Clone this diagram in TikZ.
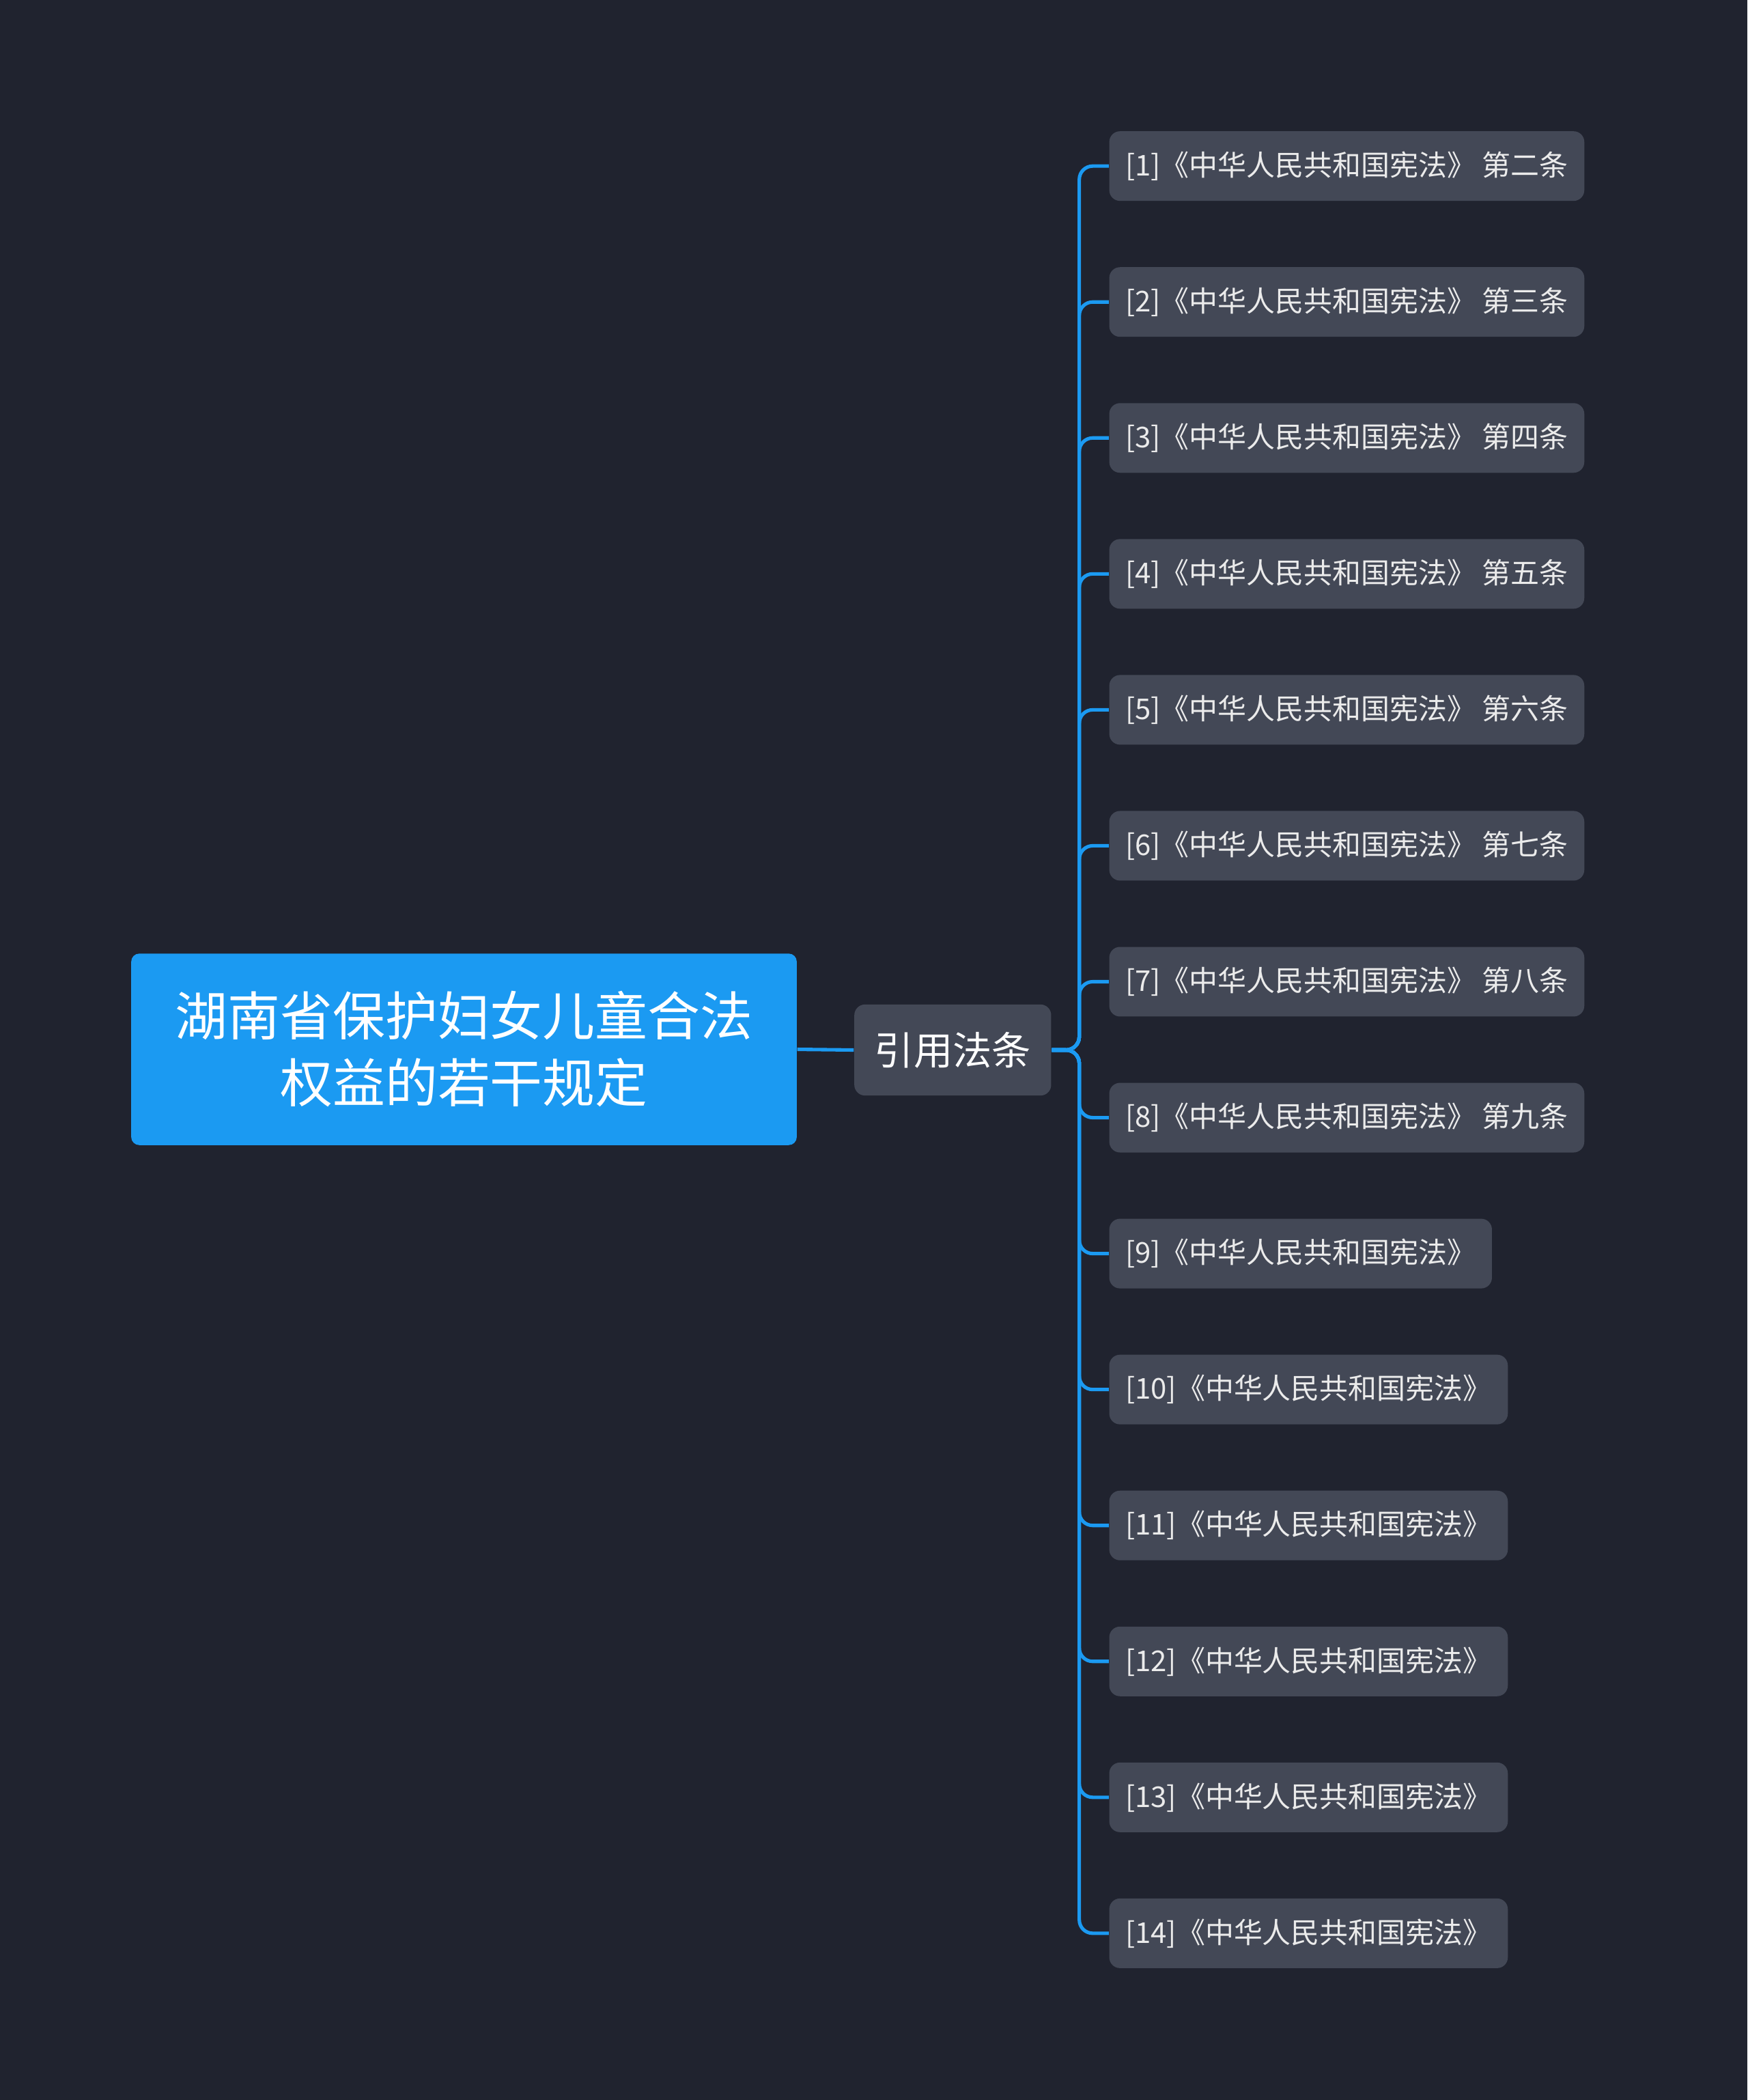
\documentclass[tikz,border=0pt]{standalone}
\usepackage{fontspec}
\setmainfont{Noto Sans CJK SC}
\definecolor{bg}{HTML}{20232F}
\definecolor{leaf}{HTML}{434856}
\definecolor{rootc}{HTML}{1B9AF2}
\definecolor{line}{HTML}{1B9AF2}
\begin{document}
\begin{tikzpicture}[x=0.5pt,y=-0.5pt,
  rootbox/.style={fill=rootc,rounded corners=3pt,minimum width=248.5pt,minimum height=71.5pt,align=center,text=white,font=\fontsize{19.6pt}{25pt}\selectfont,inner sep=0pt},
  midbox/.style={fill=leaf,rounded corners=4pt,minimum width=73.5pt,minimum height=34pt,text=white,font=\fontsize{14.6pt}{18pt}\selectfont,inner sep=0pt},
  leafbox/.style={fill=leaf,rounded corners=4pt,minimum height=26pt,text=white!92!black,font=\fontsize{10.7pt}{13pt}\selectfont,inner xsep=6pt,anchor=west},
  conn/.style={draw=line,line width=1.3pt,rounded corners=5pt}]
\useasboundingbox[fill=bg] (0,0) rectangle (1305,1568);
\node[rootbox] (root) at (346.5,783.5) {湖南省保护妇女儿童合法\\权益的若干规定};
\node[midbox] (mid) at (711.5,784) {引用法条};
\coordinate (trunk) at (806,784);
\foreach \i/\t in {1/第二条,2/第三条,3/第四条,4/第五条,5/第六条,6/第七条,7/第八条,8/第九条}{
  \node[leafbox] (l\i) at (828,{124+101.5*(\i-1)}) {[\i]《中华人民共和国宪法》 \t};
}
\foreach \i in {9,...,14}{
  \node[leafbox] (l\i) at (828,{124+101.5*(\i-1)}) {[\i]《中华人民共和国宪法》};
}
\draw[conn] (root.east) -- (mid.west);
\foreach \i in {1,...,14}{
  \draw[conn] (mid.east) -- (trunk) |- (l\i.west);
}
\end{tikzpicture}
\end{document}
